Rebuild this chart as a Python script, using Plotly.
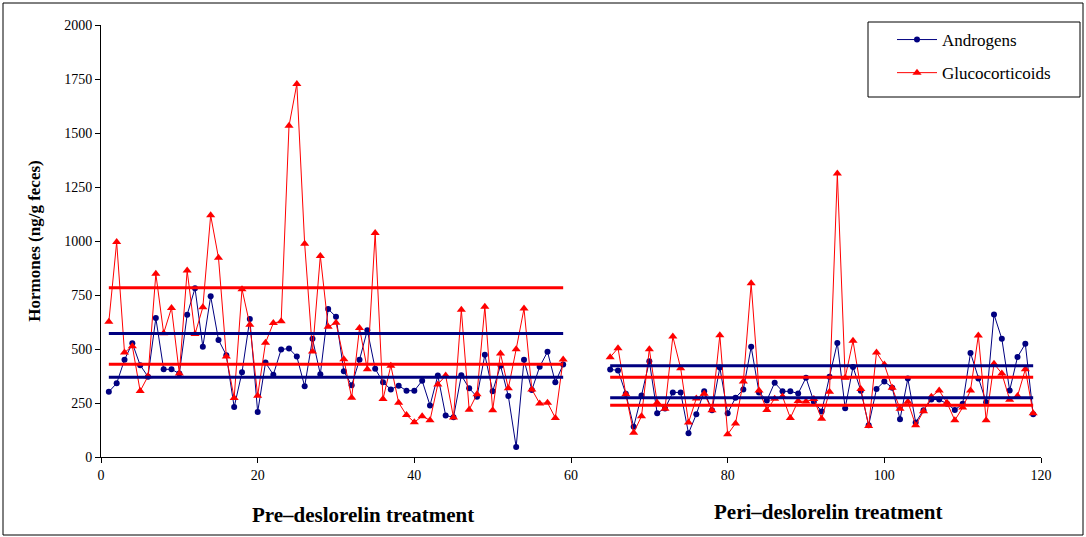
import plotly.graph_objects as go

# ---- data ----
x_pre = list(range(1, 60))
x_peri = list(range(65, 120))

andro_pre = [302, 341, 450, 527, 425, 372, 643, 406, 406, 386, 659, 781, 510, 744, 542, 471, 231, 392, 639, 208,
             437, 381, 498, 502, 465, 327, 547, 383, 685, 649, 397, 332, 450, 587, 409, 346, 313, 330, 307, 307,
             353, 239, 377, 192, 184, 378, 318, 279, 473, 304, 423, 282, 46, 450, 310, 418, 487, 346, 428]
gluco_pre = [626, 995, 484, 513, 305, 374, 848, 573, 690, 386, 863, 569, 693, 1119, 922, 465, 273, 777, 612, 284,
             529, 620, 628, 1533, 1727, 987, 488, 931, 603, 621, 453, 274, 597, 406, 1037, 268, 423, 251, 194, 161,
             189, 170, 336, 377, 183, 682, 219, 291, 696, 217, 479, 318, 499, 687, 313, 248, 251, 181, 451]
andro_peri = [405, 401, 293, 140, 285, 443, 203, 225, 299, 299, 110, 198, 304, 217, 414, 203, 274, 313, 510, 299,
              262, 344, 304, 304, 294, 367, 256, 211, 372, 528, 226, 417, 307, 147, 315, 350, 321, 175, 363, 160,
              217, 266, 266, 246, 218, 246, 482, 363, 253, 660, 547, 308, 463, 524, 198]
gluco_peri = [462, 504, 290, 112, 189, 499, 251, 223, 558, 411, 160, 271, 293, 217, 564, 105, 155, 349, 804, 308,
              218, 270, 280, 181, 259, 257, 268, 177, 302, 1312, 367, 538, 315, 143, 484, 428, 321, 223, 256, 147,
              212, 279, 308, 251, 170, 229, 308, 563, 170, 432, 387, 265, 282, 406, 202]

andro_lines_pre = [572, 369]
gluco_lines_pre = [783, 429]
andro_lines_peri = [423, 274]
gluco_lines_peri = [369, 240]

x_ticks = [0, 20, 40, 60, 80, 100, 120]
y_ticks = [0, 250, 500, 750, 1000, 1250, 1500, 1750, 2000]

BLUE = "#000080"
RED = "#FF0000"
SERIF = "Liberation Serif, Times New Roman, serif"

fig = go.Figure()

xa = x_pre + [None] + x_peri
fig.add_trace(go.Scatter(
    x=xa, y=andro_pre + [None] + andro_peri, mode="lines+markers", name="Androgens",
    legendgroup="a", connectgaps=False,
    line=dict(color=BLUE, width=1), marker=dict(symbol="circle", size=6, color=BLUE)))
fig.add_trace(go.Scatter(
    x=xa, y=gluco_pre + [None] + gluco_peri, mode="lines+markers", name="Glucocorticoids",
    legendgroup="g", connectgaps=False,
    line=dict(color=RED, width=1), marker=dict(symbol="triangle-up", size=8, color=RED)))

for vals, xs, col in [(gluco_lines_pre, x_pre, RED), (andro_lines_pre, x_pre, BLUE),
                      (andro_lines_peri, x_peri, BLUE), (gluco_lines_peri, x_peri, RED)]:
    for v in vals:
        fig.add_trace(go.Scatter(x=[xs[0], xs[-1]], y=[v, v], mode="lines",
                                 line=dict(color=col, width=3), showlegend=False, hoverinfo="skip"))

# outer frame and legend box
W, H = 1086, 537
L, R, T, B = 101, 1041, 25, 457
def px(x): return (x - L) / (R - L)
def py(y): return (B - y) / (B - T)

fig.add_shape(type="rect", xref="paper", yref="paper",
              x0=px(3), x1=px(1083), y0=py(535), y1=py(3),
              line=dict(color="black", width=1), layer="above")
fig.add_shape(type="rect", xref="paper", yref="paper",
              x0=px(868), x1=px(1080), y0=py(97), y1=py(22),
              line=dict(color="black", width=1), layer="above")

fig.add_annotation(text="<b>Pre–deslorelin treatment</b>", xref="paper", yref="paper",
                   x=px(363), y=py(515), xanchor="center", yanchor="middle", showarrow=False,
                   font=dict(family=SERIF, size=21, color="black"))
fig.add_annotation(text="<b>Peri–deslorelin treatment</b>", xref="paper", yref="paper",
                   x=px(828), y=py(512), xanchor="center", yanchor="middle", showarrow=False,
                   font=dict(family=SERIF, size=21, color="black"))

fig.update_layout(
    width=W, height=H,
    margin=dict(l=L, r=W - R, t=T, b=H - B),
    paper_bgcolor="white", plot_bgcolor="white",
    font=dict(family=SERIF, size=14, color="black"),
    showlegend=True,
    legend=dict(x=px(892), y=py(22), xanchor="left", yanchor="top",
                bgcolor="rgba(0,0,0,0)", borderwidth=0,
                font=dict(family=SERIF, size=17, color="black"),
                tracegroupgap=8, itemwidth=40),
    xaxis=dict(range=[0, 120], tickvals=x_ticks, showgrid=False, zeroline=False,
               showline=True, linecolor="black", linewidth=1,
               ticks="outside", ticklen=5, tickcolor="black",
               tickfont=dict(family=SERIF, size=14)),
    yaxis=dict(range=[0, 2000], tickvals=y_ticks, showgrid=False, zeroline=False,
               showline=True, linecolor="black", linewidth=1,
               ticks="outside", ticklen=5, tickcolor="black",
               tickfont=dict(family=SERIF, size=14),
               title=dict(text="<b>Hormones (ng/g feces)</b>", font=dict(family=SERIF, size=17), standoff=19)),
)

fig.write_html("out.html", config={"displayModeBar": False},
               post_script="document.body.style.margin='0';")
